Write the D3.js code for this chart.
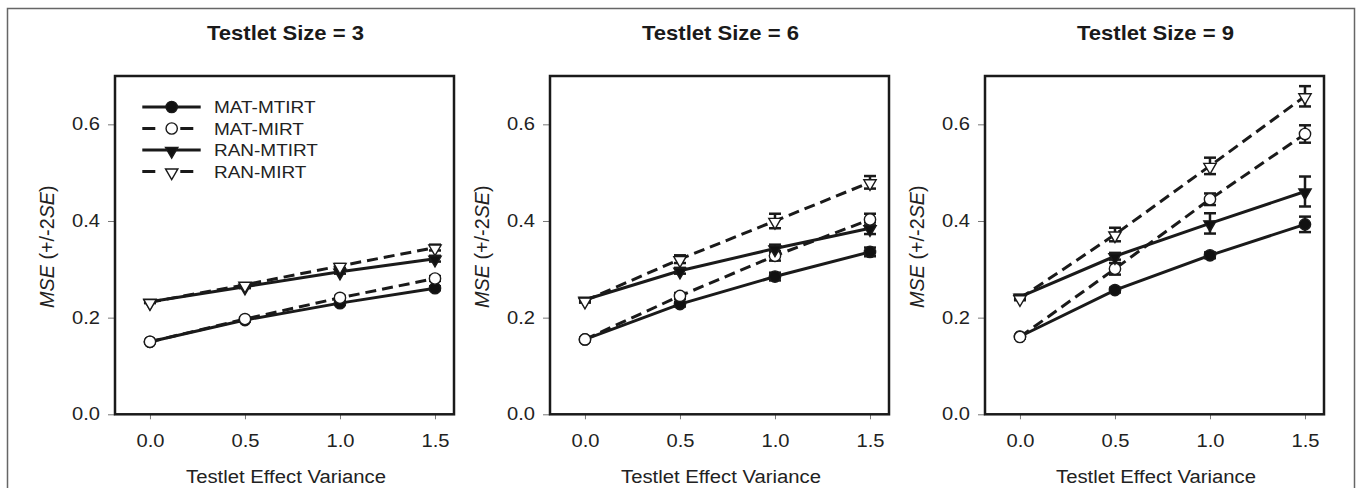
<!DOCTYPE html>
<html>
<head>
<meta charset="utf-8">
<script src="https://cdn.jsdelivr.net/npm/d3@7"></script>
<style>
  html, body { margin: 0; padding: 0; background: #fff; }
  svg { display: block; font-family: "Liberation Sans", Arial, Helvetica, sans-serif; }
</style>
</head>
<body>
<svg id="chart" width="1357" height="488"></svg>
<script>
// ---------- data ----------
const categories = [0, 0.5, 1.0, 1.5];
const xTickLabels = ["0.0", "0.5", "1.0", "1.5"];
const yTickValues = [0, 0.2, 0.4, 0.6];
const yTickLabels = ["0.0", "0.2", "0.4", "0.6"];
const panelTitles = ["Testlet Size = 3", "Testlet Size = 6", "Testlet Size = 9"];
const seriesNames = ["MAT-MTIRT", "MAT-MIRT", "RAN-MTIRT", "RAN-MIRT"];
const xAxisTitle = "Testlet Effect Variance";

// Testlet size 3
const mse3MatMtirt = [0.150, 0.195, 0.230, 0.261];
const mse3MatMirt  = [0.150, 0.197, 0.241, 0.281];
const mse3RanMtirt = [0.233, 0.264, 0.295, 0.322];
const mse3RanMirt  = [0.232, 0.268, 0.307, 0.345];
const err3MatMtirt = [0.002, 0.003, 0.003, 0.004];
const err3MatMirt  = [0.002, 0.003, 0.004, 0.005];
const err3RanMtirt = [0.002, 0.003, 0.004, 0.006];
const err3RanMirt  = [0.002, 0.003, 0.004, 0.006];

// Testlet size 6
const mse6MatMtirt = [0.155, 0.228, 0.285, 0.336];
const mse6MatMirt  = [0.155, 0.245, 0.328, 0.403];
const mse6RanMtirt = [0.237, 0.297, 0.343, 0.385];
const mse6RanMirt  = [0.235, 0.321, 0.400, 0.480];
const err6MatMtirt = [0.003, 0.005, 0.008, 0.009];
const err6MatMirt  = [0.003, 0.006, 0.010, 0.012];
const err6RanMtirt = [0.003, 0.006, 0.008, 0.012];
const err6RanMirt  = [0.004, 0.008, 0.015, 0.013];

// Testlet size 9
const mse9MatMtirt = [0.161, 0.257, 0.329, 0.393];
const mse9MatMirt  = [0.160, 0.301, 0.445, 0.580];
const mse9RanMtirt = [0.243, 0.327, 0.395, 0.461];
const mse9RanMirt  = [0.240, 0.372, 0.514, 0.658];
const err9MatMtirt = [0.003, 0.005, 0.006, 0.016];
const err9MatMirt  = [0.003, 0.012, 0.012, 0.018];
const err9RanMtirt = [0.004, 0.007, 0.021, 0.031];
const err9RanMirt  = [0.004, 0.014, 0.017, 0.021];

// ---------- build ----------
const panels = [
  { title: panelTitles[0], series: [
    { name: seriesNames[0], v: mse3MatMtirt, e: err3MatMtirt },
    { name: seriesNames[1], v: mse3MatMirt,  e: err3MatMirt },
    { name: seriesNames[2], v: mse3RanMtirt, e: err3RanMtirt },
    { name: seriesNames[3], v: mse3RanMirt,  e: err3RanMirt } ] },
  { title: panelTitles[1], series: [
    { name: seriesNames[0], v: mse6MatMtirt, e: err6MatMtirt },
    { name: seriesNames[1], v: mse6MatMirt,  e: err6MatMirt },
    { name: seriesNames[2], v: mse6RanMtirt, e: err6RanMtirt },
    { name: seriesNames[3], v: mse6RanMirt,  e: err6RanMirt } ] },
  { title: panelTitles[2], series: [
    { name: seriesNames[0], v: mse9MatMtirt, e: err9MatMtirt },
    { name: seriesNames[1], v: mse9MatMirt,  e: err9MatMirt },
    { name: seriesNames[2], v: mse9RanMtirt, e: err9RanMtirt },
    { name: seriesNames[3], v: mse9RanMirt,  e: err9RanMirt } ] }
];

const styleOf = [
  { dash: null,   marker: "circle",   fill: "#111" },
  { dash: "11,6", marker: "circle",   fill: "#fff" },
  { dash: null,   marker: "triangle", fill: "#111" },
  { dash: "11,6", marker: "triangle", fill: "#fff" }
];

const INK = "#1a1a1a";
const svg = d3.select("#chart");

// widen glyphs horizontally (reference text is wide)
function stretch(sel, sx) {
  sel.each(function () {
    const w = this.getComputedTextLength();
    d3.select(this).attr("textLength", w * sx).attr("lengthAdjust", "spacingAndGlyphs");
  });
}

// outer frame
svg.append("rect")
  .attr("x", 7.5).attr("y", 8.5)
  .attr("width", 1347).attr("height", 500)
  .attr("fill", "none").attr("stroke", "#666").attr("stroke-width", 1.5);

const panelLefts = [115, 550, 985];
const boxW = 339;
const boxTop = 76, boxBottom = 414.3;

const x = d3.scaleLinear().domain([-0.184, 1.6]).range([0, boxW]);
const y = d3.scaleLinear().domain([0, 0.7]).range([boxBottom, boxTop]);

const triPath = d3.symbol().type(d3.symbolTriangle).size(66)();
const circPath = d3.symbol().type(d3.symbolCircle).size(100)();

function drawMarker(g, st, cx, cy) {
  const isTri = st.marker === "triangle";
  g.append("path")
    .attr("d", isTri ? triPath : circPath)
    .attr("transform", `translate(${cx},${cy})` + (isTri ? " rotate(180) translate(0,-1)" : ""))
    .attr("fill", st.fill)
    .attr("stroke", INK)
    .attr("stroke-width", 1.4);
}

panels.forEach((p, pi) => {
  const g = svg.append("g").attr("transform", `translate(${panelLefts[pi]},0)`);

  // title
  const tt = g.append("text")
    .attr("x", boxW / 2 + 1).attr("y", 40)
    .attr("text-anchor", "middle")
    .attr("font-size", 21).attr("font-weight", "bold")
    .attr("fill", INK)
    .text(p.title);
  stretch(tt, 1.05);

  // y axis
  const yAxis = d3.axisLeft(y).tickValues(yTickValues)
    .tickFormat((d, i) => yTickLabels[i]).tickSize(7).tickPadding(8);
  const ya = g.append("g").call(yAxis);
  ya.select(".domain").remove();
  ya.selectAll("line").attr("stroke", "#777").attr("stroke-width", 1);
  ya.selectAll("text").attr("font-size", 17.5).attr("fill", "#222")
    .attr("font-family", '"Liberation Sans", Arial, sans-serif');
  stretch(ya.selectAll("text"), 1.15);

  // x axis
  const xAxis = d3.axisBottom(x).tickValues(categories)
    .tickFormat((d, i) => xTickLabels[i]).tickSize(5).tickPadding(15.3);
  const xa = g.append("g").attr("transform", `translate(0,${boxBottom})`).call(xAxis);
  xa.select(".domain").remove();
  xa.selectAll("line").attr("stroke", "#777").attr("stroke-width", 1);
  xa.selectAll("text").attr("font-size", 17.5).attr("fill", "#222")
    .attr("font-family", '"Liberation Sans", Arial, sans-serif');
  stretch(xa.selectAll("text"), 1.15);

  // x title
  const xt = g.append("text")
    .attr("x", boxW / 2 + 1.5).attr("y", 483)
    .attr("text-anchor", "middle")
    .attr("font-size", 18.8).attr("fill", "#222")
    .text(xAxisTitle);
  stretch(xt, 1.08);

  // y title
  const yt = g.append("text")
    .attr("transform", `translate(${-61.5},${(boxTop + boxBottom) / 2 + 1.5}) rotate(-90)`)
    .attr("text-anchor", "middle")
    .attr("font-size", 19.8).attr("fill", "#222");
  yt.append("tspan").attr("font-style", "italic").text("MSE");
  yt.append("tspan").text(" (+/-2");
  yt.append("tspan").attr("font-style", "italic").text("SE");
  yt.append("tspan").text(")");

  // lines
  const line = d3.line().x((d, i) => x(categories[i])).y(d => y(d));
  p.series.forEach((s, si) => {
    const st = styleOf[si];
    g.append("path")
      .datum(s.v)
      .attr("d", line)
      .attr("fill", "none")
      .attr("stroke", INK)
      .attr("stroke-width", 3)
      .attr("stroke-dasharray", st.dash);
  });

  // error bars
  p.series.forEach((s, si) => {
    s.v.forEach((v, i) => {
      const cx = x(categories[i]);
      const y1 = y(v + s.e[i]), y2 = y(v - s.e[i]);
      const eb = g.append("g").attr("stroke", INK).attr("stroke-width", 2.5);
      eb.append("line").attr("x1", cx).attr("x2", cx).attr("y1", y1).attr("y2", y2);
      eb.append("line").attr("x1", cx - 6).attr("x2", cx + 6).attr("y1", y1).attr("y2", y1);
      eb.append("line").attr("x1", cx - 6).attr("x2", cx + 6).attr("y1", y2).attr("y2", y2);
    });
  });

  // markers
  p.series.forEach((s, si) => {
    const st = styleOf[si];
    s.v.forEach((v, i) => drawMarker(g, st, x(categories[i]), y(v)));
  });

  // box
  g.append("rect")
    .attr("x", 0).attr("y", boxTop)
    .attr("width", boxW).attr("height", boxBottom - boxTop)
    .attr("fill", "none").attr("stroke", INK).attr("stroke-width", 2.5);

  // legend (first panel only)
  if (pi === 0) {
    const rowsY = [107, 128.5, 150, 171.5];
    seriesNames.forEach((name, si) => {
      const st = styleOf[si];
      const ly = rowsY[si];
      g.append("line")
        .attr("x1", 27.3).attr("x2", st.dash ? 78.3 : 85.7)
        .attr("y1", ly).attr("y2", ly)
        .attr("stroke", INK).attr("stroke-width", 3)
        .attr("stroke-dasharray", st.dash ? "13,25" : null);
      drawMarker(g, st, 56.7, ly);
      const lt = g.append("text")
        .attr("x", 99).attr("y", ly).attr("dy", "0.36em")
        .attr("font-size", 16.8).attr("fill", "#222")
        .text(name);
      stretch(lt, 1.13);
    });
  }
});
</script>
</body>
</html>
